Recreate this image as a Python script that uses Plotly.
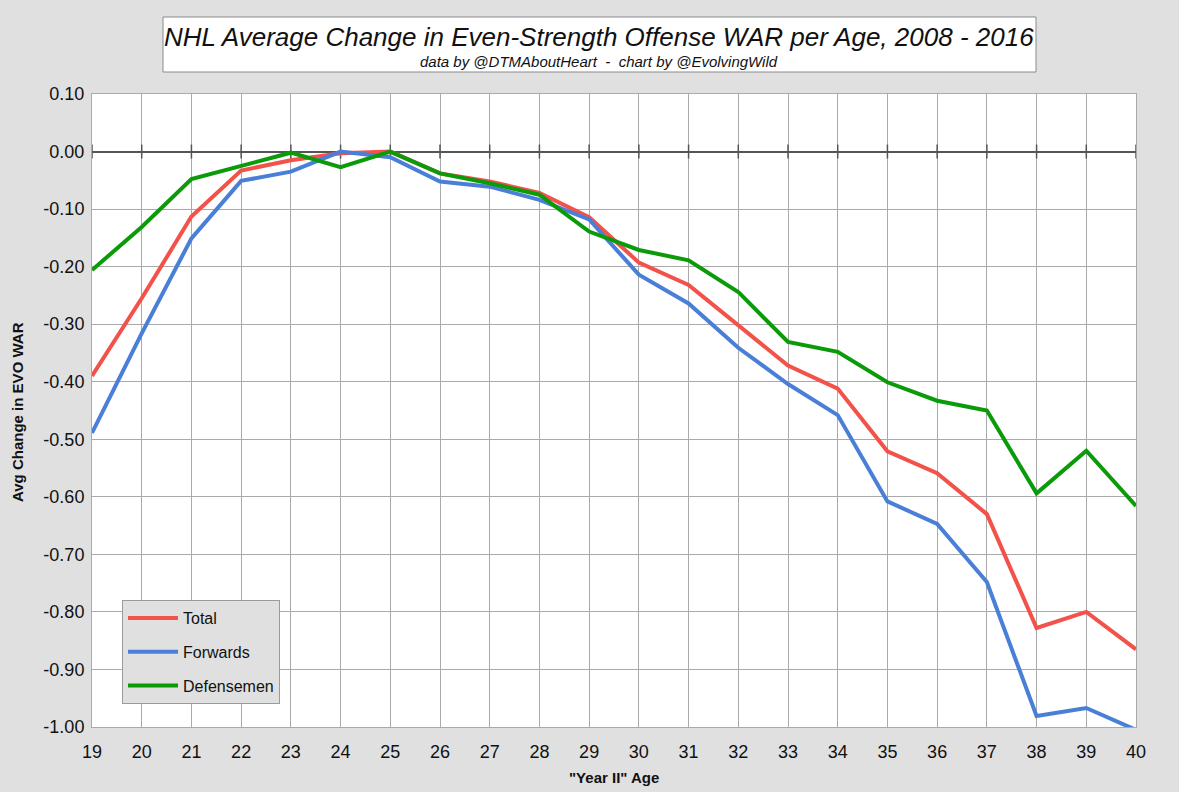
import plotly.graph_objects as go

ages = list(range(19, 41))
total = [-0.390, -0.255, -0.113, -0.033, -0.015, -0.003, 0.000, -0.038, -0.052, -0.072,
         -0.114, -0.193, -0.232, -0.302, -0.372, -0.412, -0.521, -0.559, -0.630, -0.828,
         -0.800, -0.865]
forwards = [-0.489, -0.316, -0.151, -0.051, -0.035, 0.000, -0.010, -0.052, -0.061, -0.084,
            -0.118, -0.214, -0.264, -0.341, -0.404, -0.458, -0.608, -0.647, -0.748, -0.981,
            -0.967, -1.005]
defensemen = [-0.206, -0.131, -0.048, -0.025, -0.002, -0.027, 0.000, -0.038, -0.055, -0.075,
              -0.139, -0.171, -0.189, -0.244, -0.331, -0.348, -0.401, -0.433, -0.450, -0.594,
              -0.520, -0.616]
y_ticks = [0.10, 0.00, -0.10, -0.20, -0.30, -0.40, -0.50, -0.60, -0.70, -0.80, -0.90, -1.00]
y_labels = [f"{v:.2f}" for v in y_ticks]

FONT = "Liberation Sans, Arial, Helvetica, sans-serif"
W, H = 1179, 792
L, R, T, B = 92, 43, 94, 65
PW, PH = W - L - R, H - T - B

fig = go.Figure()
# zero-line tick marks
fig.add_trace(go.Scatter(x=ages, y=[0] * len(ages), mode="markers",
                         marker=dict(symbol="line-ns-open", size=10, color="#555555",
                                     line=dict(color="#555555", width=1.5)),
                         showlegend=False, hoverinfo="skip", cliponaxis=False))
fig.add_trace(go.Scatter(x=ages, y=total, mode="lines", name="Total", legendgroup="a",
                         line=dict(color="#f2524a", width=4)))
fig.add_trace(go.Scatter(x=ages, y=forwards, mode="lines", name="Forwards", legendgroup="b",
                         line=dict(color="#4a7fd8", width=4)))
fig.add_trace(go.Scatter(x=ages, y=defensemen, mode="lines", name="Defensemen", legendgroup="c",
                         line=dict(color="#0a9a0a", width=4)))

fig.update_layout(
    width=W, height=H,
    paper_bgcolor="#e0e0e0", plot_bgcolor="#ffffff",
    margin=dict(l=L, r=R, t=T, b=B, autoexpand=False),
    font=dict(family=FONT, color="#111111"),
    showlegend=True,
    legend=dict(x=122 / W, y=(H - 600) / H, xanchor="left", yanchor="top",
                xref="container", yref="container",
                bgcolor="#e0e0e0", bordercolor="#9a9a9a", borderwidth=1,
                font=dict(family=FONT, size=16, color="#111111"),
                tracegroupgap=10, itemwidth=50, entrywidth=150,
                entrywidthmode="pixels"),
    xaxis=dict(range=[19, 40], tickvals=ages, ticktext=[str(a) for a in ages],
               automargin=False,
               showgrid=True, gridcolor="#aaaaaa", gridwidth=1,
               zeroline=False, showline=True, linecolor="#aaaaaa", mirror=True,
               ticks="", ticklabelstandoff=8,
               tickfont=dict(size=18, family=FONT, color="#111111")),
    yaxis=dict(range=[-1.0, 0.10], tickvals=y_ticks, ticktext=y_labels,
               automargin=False,
               showgrid=True, gridcolor="#aaaaaa", gridwidth=1,
               zeroline=True, zerolinecolor="#555555", zerolinewidth=1.5,
               showline=True, linecolor="#aaaaaa", mirror=True,
               ticks="", ticklabelstandoff=3,
               tickfont=dict(size=18, family=FONT, color="#111111")),
    shapes=[
        dict(type="rect", xref="paper", yref="paper", layer="above",
             x0=(163 - L) / PW, x1=(1036 - L) / PW,
             y0=(H - B - 72) / PH, y1=(H - B - 17) / PH,
             fillcolor="#ffffff", line=dict(color="#8a8a8a", width=1)),
    ],
    annotations=[
        dict(text="<i>NHL Average Change in Even-Strength Offense WAR per Age, 2008 - 2016</i>",
             xref="paper", yref="paper", x=(599 - L) / PW, y=(H - B - 37) / PH,
             showarrow=False, font=dict(size=26, family=FONT, color="#111111"),
             xanchor="center", yanchor="middle"),
        dict(text="<i>data by @DTMAboutHeart  -  chart by @EvolvingWild</i>",
             xref="paper", yref="paper", x=(599 - L) / PW, y=(H - B - 61) / PH,
             showarrow=False, font=dict(size=15, family=FONT, color="#111111"),
             xanchor="center", yanchor="middle"),
        dict(text='<b>"Year II" Age</b>', xref="paper", yref="paper",
             x=(614 - L) / PW, y=(H - B - 777) / PH, showarrow=False,
             font=dict(size=15, family=FONT, color="#111111"),
             xanchor="center", yanchor="middle"),
        dict(text="<b>Avg Change in EVO WAR</b>", xref="paper", yref="paper",
             x=(17 - L) / PW, y=(H - B - 412) / PH, showarrow=False, textangle=-90,
             font=dict(size=15, family=FONT, color="#111111"),
             xanchor="center", yanchor="middle"),
    ],
)

fig.write_html("out.html", config={"displayModeBar": False},
               post_script="document.body.style.margin='0';document.body.style.overflow='hidden';")
